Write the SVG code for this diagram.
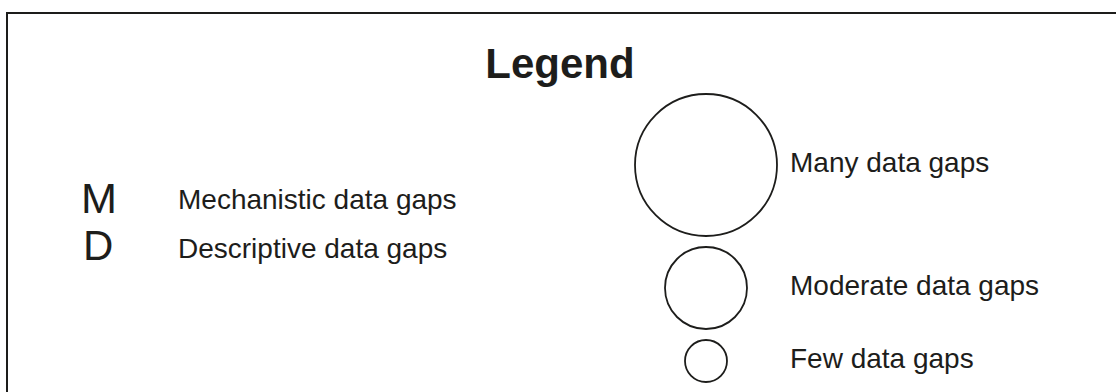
<svg xmlns="http://www.w3.org/2000/svg" width="1116" height="392" viewBox="0 0 1116 392">
<style>
.t{font-family:"Liberation Sans",Arial,sans-serif;font-size:28px;fill:#1d1d1b}
.big{font-family:"Liberation Sans",Arial,sans-serif;font-size:42px;fill:#1d1d1b}
.c{fill:#fff;stroke:#1d1d1b;stroke-width:1.8}
</style>
<rect width="1116" height="392" fill="#fff"/>
<path d="M7,392 V13 H1116" fill="none" stroke="#1d1d1b" stroke-width="2"/>
<g id="title"><text x="560" y="78" class="big" font-weight="bold" text-anchor="middle">Legend</text></g>
<g id="mechanistic">
<text x="81" y="213" class="big" textLength="36" lengthAdjust="spacingAndGlyphs">M</text>
<text x="178" y="209" class="t">Mechanistic data gaps</text>
</g>
<g id="descriptive">
<text x="83" y="260" class="big">D</text>
<text x="178" y="258" class="t">Descriptive data gaps</text>
</g>
<g id="many">
<circle cx="706" cy="165" r="71" class="c"/>
<text x="790" y="172" class="t">Many data gaps</text>
</g>
<g id="moderate">
<circle cx="706" cy="288" r="41" class="c"/>
<text x="790" y="295" class="t">Moderate data gaps</text>
</g>
<g id="few">
<circle cx="706" cy="361" r="21" class="c"/>
<text x="790" y="368" class="t">Few data gaps</text>
</g>
</svg>
